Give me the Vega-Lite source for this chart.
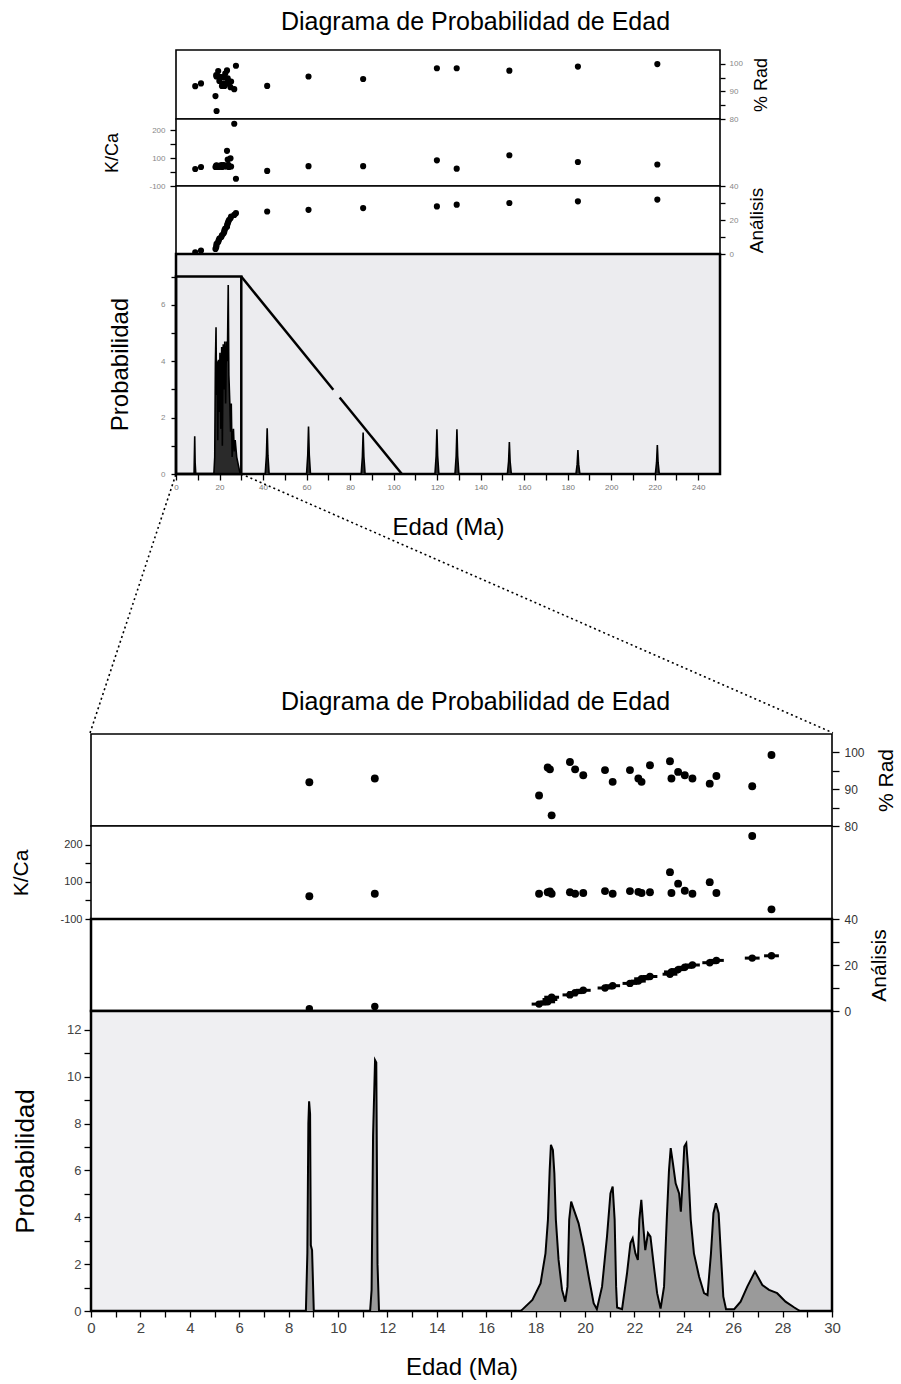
{
  "$schema": "https://vega.github.io/schema/vega-lite/v6.json",
  "width": 901,
  "height": 1384,
  "autosize": {"type": "none"},
  "padding": 0,
  "background": "white",
  "config": {
    "font": "Liberation Sans",
    "view": {"stroke": null},
    "axis": {"domain": false, "grid": false, "tickColor": "black", "tickWidth": 1.3, "labelColor": "#555", "titleColor": "black", "titleFontWeight": "normal", "labelFont": "Liberation Sans", "titleFont": "Liberation Sans", "minExtent": 0, "labelOverlap": false, "labelFlush": false}
  },
  "datasets": {
    "ana": [
      {"age": 8.84, "rad": 91.9, "kca": 61, "idx": 1, "err": 0.06},
      {"age": 11.49, "rad": 92.9, "kca": 68, "idx": 2, "err": 0.06},
      {"age": 18.14, "rad": 88.3, "kca": 68, "idx": 3, "err": 0.3},
      {"age": 18.49, "rad": 95.9, "kca": 72, "idx": 4, "err": 0.3},
      {"age": 18.58, "rad": 95.4, "kca": 74, "idx": 5, "err": 0.3},
      {"age": 18.65, "rad": 82.9, "kca": 68, "idx": 6, "err": 0.3},
      {"age": 19.39, "rad": 97.4, "kca": 72, "idx": 7, "err": 0.3},
      {"age": 19.6, "rad": 95.4, "kca": 68, "idx": 8, "err": 0.3},
      {"age": 19.93, "rad": 93.8, "kca": 70, "idx": 9, "err": 0.3},
      {"age": 20.81, "rad": 95.2, "kca": 75, "idx": 10, "err": 0.3},
      {"age": 21.12, "rad": 92.0, "kca": 68, "idx": 11, "err": 0.3},
      {"age": 21.82, "rad": 95.2, "kca": 75, "idx": 12, "err": 0.3},
      {"age": 22.16, "rad": 92.9, "kca": 73, "idx": 13, "err": 0.3},
      {"age": 22.29, "rad": 92.0, "kca": 70, "idx": 14, "err": 0.3},
      {"age": 22.63, "rad": 96.5, "kca": 72, "idx": 15, "err": 0.3},
      {"age": 23.44, "rad": 97.6, "kca": 126, "idx": 16, "err": 0.3},
      {"age": 23.5, "rad": 92.9, "kca": 70, "idx": 17, "err": 0.3},
      {"age": 23.77, "rad": 94.7, "kca": 95, "idx": 18, "err": 0.3},
      {"age": 24.04, "rad": 93.8, "kca": 76, "idx": 19, "err": 0.3},
      {"age": 24.35, "rad": 92.9, "kca": 68, "idx": 20, "err": 0.3},
      {"age": 25.05, "rad": 91.5, "kca": 99, "idx": 21, "err": 0.3},
      {"age": 25.32, "rad": 93.6, "kca": 70, "idx": 22, "err": 0.3},
      {"age": 26.77, "rad": 90.8, "kca": 223, "idx": 23, "err": 0.3},
      {"age": 27.55, "rad": 99.3, "kca": 26, "idx": 24, "err": 0.3},
      {"age": 41.9, "rad": 92.0, "kca": 54, "idx": 25, "err": 0.3},
      {"age": 60.9, "rad": 95.4, "kca": 71, "idx": 26, "err": 0.3},
      {"age": 86.0, "rad": 94.5, "kca": 71, "idx": 27, "err": 0.3},
      {"age": 119.9, "rad": 98.4, "kca": 92, "idx": 28, "err": 0.3},
      {"age": 129.0, "rad": 98.4, "kca": 62, "idx": 29, "err": 0.3},
      {"age": 153.2, "rad": 97.5, "kca": 110, "idx": 30, "err": 0.3},
      {"age": 184.7, "rad": 99.0, "kca": 86, "idx": 31, "err": 0.3},
      {"age": 221.2, "rad": 99.9, "kca": 77, "idx": 32, "err": 0.3}
    ],
    "pt": [
      {"a": 0, "p": 0}, {"a": 8.3, "p": 0}, {"a": 8.6, "p": 1.34}, {"a": 8.8, "p": 0.4}, {"a": 9.1, "p": 0},
      {"a": 17.4, "p": 0}, {"a": 17.8, "p": 0.6}, {"a": 18.1, "p": 3.9}, {"a": 18.4, "p": 5.2}, {"a": 18.6, "p": 2.8},
      {"a": 18.9, "p": 4.0}, {"a": 19.2, "p": 1.2}, {"a": 19.5, "p": 4.05}, {"a": 19.8, "p": 2.2}, {"a": 20.2, "p": 4.3},
      {"a": 20.6, "p": 1.6}, {"a": 21.0, "p": 4.5}, {"a": 21.3, "p": 1.0}, {"a": 21.7, "p": 4.6}, {"a": 22.0, "p": 3.0},
      {"a": 22.4, "p": 4.7}, {"a": 22.8, "p": 2.5}, {"a": 23.2, "p": 4.7}, {"a": 23.6, "p": 4.0}, {"a": 24.0, "p": 6.7},
      {"a": 24.3, "p": 3.5}, {"a": 24.7, "p": 2.6}, {"a": 25.1, "p": 1.5}, {"a": 25.4, "p": 2.5}, {"a": 25.8, "p": 0.6},
      {"a": 26.4, "p": 1.6}, {"a": 26.8, "p": 0.8}, {"a": 27.2, "p": 1.2}, {"a": 27.9, "p": 0.6}, {"a": 28.7, "p": 0.3},
      {"a": 29.5, "p": 0},
      {"a": 41.0, "p": 0}, {"a": 41.55, "p": 0.65}, {"a": 41.9, "p": 1.62}, {"a": 42.25, "p": 0.65}, {"a": 42.8, "p": 0},
      {"a": 60.0, "p": 0}, {"a": 60.55, "p": 0.67}, {"a": 60.9, "p": 1.68}, {"a": 61.25, "p": 0.67}, {"a": 61.8, "p": 0},
      {"a": 85.1, "p": 0}, {"a": 85.65, "p": 0.6}, {"a": 86.0, "p": 1.47}, {"a": 86.35, "p": 0.6}, {"a": 86.9, "p": 0},
      {"a": 119.0, "p": 0}, {"a": 119.55, "p": 0.64}, {"a": 119.9, "p": 1.59}, {"a": 120.25, "p": 0.64}, {"a": 120.8, "p": 0},
      {"a": 128.2, "p": 0}, {"a": 128.75, "p": 0.64}, {"a": 129.1, "p": 1.59}, {"a": 129.45, "p": 0.64}, {"a": 130.0, "p": 0},
      {"a": 152.3, "p": 0}, {"a": 152.85, "p": 0.45}, {"a": 153.2, "p": 1.13}, {"a": 153.55, "p": 0.45}, {"a": 154.1, "p": 0},
      {"a": 183.8, "p": 0}, {"a": 184.35, "p": 0.34}, {"a": 184.7, "p": 0.85}, {"a": 185.05, "p": 0.34}, {"a": 185.6, "p": 0},
      {"a": 220.3, "p": 0}, {"a": 220.85, "p": 0.41}, {"a": 221.2, "p": 1.03}, {"a": 221.55, "p": 0.41}, {"a": 222.1, "p": 0},
      {"a": 250, "p": 0}
    ],
    "pb": [
      {"a": 0, "p": 0}, {"a": 8.7, "p": 0}, {"a": 8.76, "p": 2.5}, {"a": 8.8, "p": 8.0}, {"a": 8.83, "p": 8.95},
      {"a": 8.87, "p": 8.4}, {"a": 8.9, "p": 2.8}, {"a": 8.95, "p": 2.6}, {"a": 9.02, "p": 0},
      {"a": 11.3, "p": 0}, {"a": 11.36, "p": 0.9}, {"a": 11.42, "p": 7.5}, {"a": 11.5, "p": 10.7}, {"a": 11.55, "p": 10.6},
      {"a": 11.6, "p": 2.0}, {"a": 11.66, "p": 0},
      {"a": 17.4, "p": 0}, {"a": 17.47, "p": 0.07}, {"a": 17.87, "p": 0.47}, {"a": 18.2, "p": 1.18}, {"a": 18.4, "p": 2.46},
      {"a": 18.5, "p": 3.9}, {"a": 18.57, "p": 6.0}, {"a": 18.62, "p": 7.09}, {"a": 18.7, "p": 6.87}, {"a": 18.76, "p": 5.88},
      {"a": 18.82, "p": 3.9}, {"a": 18.93, "p": 2.18}, {"a": 19.07, "p": 0.9}, {"a": 19.2, "p": 0.4}, {"a": 19.29, "p": 1.04},
      {"a": 19.36, "p": 3.9}, {"a": 19.44, "p": 4.67}, {"a": 19.53, "p": 4.38}, {"a": 19.74, "p": 3.74}, {"a": 19.94, "p": 2.74},
      {"a": 20.15, "p": 1.46}, {"a": 20.35, "p": 0.33}, {"a": 20.48, "p": 0.08}, {"a": 20.69, "p": 1.04}, {"a": 20.89, "p": 3.17},
      {"a": 21.03, "p": 5.02}, {"a": 21.12, "p": 5.31}, {"a": 21.2, "p": 3.9}, {"a": 21.26, "p": 1.04}, {"a": 21.3, "p": 0.15},
      {"a": 21.5, "p": 0.08}, {"a": 21.7, "p": 1.6}, {"a": 21.84, "p": 2.9}, {"a": 21.93, "p": 3.1}, {"a": 22.04, "p": 2.46},
      {"a": 22.14, "p": 2.18}, {"a": 22.2, "p": 3.9}, {"a": 22.28, "p": 4.74}, {"a": 22.35, "p": 3.74}, {"a": 22.44, "p": 2.6},
      {"a": 22.55, "p": 3.32}, {"a": 22.65, "p": 3.17}, {"a": 22.79, "p": 1.89}, {"a": 22.92, "p": 0.76}, {"a": 23.06, "p": 0.1},
      {"a": 23.2, "p": 1.04}, {"a": 23.31, "p": 3.9}, {"a": 23.4, "p": 6.0}, {"a": 23.47, "p": 6.95}, {"a": 23.56, "p": 6.3},
      {"a": 23.67, "p": 5.45}, {"a": 23.81, "p": 5.02}, {"a": 23.88, "p": 4.24}, {"a": 23.94, "p": 5.31}, {"a": 24.02, "p": 7.02},
      {"a": 24.1, "p": 7.16}, {"a": 24.18, "p": 6.02}, {"a": 24.28, "p": 3.9}, {"a": 24.41, "p": 2.46}, {"a": 24.62, "p": 1.46},
      {"a": 24.82, "p": 0.76}, {"a": 24.96, "p": 0.68}, {"a": 25.1, "p": 2.46}, {"a": 25.2, "p": 4.17}, {"a": 25.3, "p": 4.6},
      {"a": 25.41, "p": 4.17}, {"a": 25.5, "p": 2.46}, {"a": 25.6, "p": 0.61}, {"a": 25.71, "p": 0.08}, {"a": 26.04, "p": 0.08},
      {"a": 26.3, "p": 0.4}, {"a": 26.57, "p": 1.04}, {"a": 26.88, "p": 1.68}, {"a": 27.18, "p": 1.11}, {"a": 27.45, "p": 0.9},
      {"a": 27.78, "p": 0.76}, {"a": 28.12, "p": 0.4}, {"a": 28.46, "p": 0.16}, {"a": 28.7, "p": 0}, {"a": 30, "p": 0}
    ]
  },
  "resolve": {"scale": {"x": "independent", "y": "independent"}, "axis": {"x": "independent", "y": "independent"}},
  "layer": [
    {
      "data": {"values": [{"x0": 0, "x1": 250, "y0": 80, "y1": 105}]},
      "mark": {"type": "rect", "fill": "white", "stroke": "black", "strokeWidth": 1.6},
      "encoding": {
        "x": {"field": "x0", "type": "quantitative", "scale": {"domain": [0, 250], "range": [176, 720], "nice": false, "zero": false},
              "axis": {"orient": "top", "offset": -50, "labels": false, "ticks": false, "title": "Diagrama de Probabilidad de Edad", "titleFontSize": 25, "titlePadding": 16, "titleX": 475}},
        "x2": {"field": "x1"},
        "y": {"field": "y0", "type": "quantitative", "scale": {"domain": [80, 105], "range": [119, 50], "nice": false, "zero": false},
              "axis": {"orient": "right", "offset": -181, "values": [80, 85, 90, 95, 100], "labelExpr": "datum.value % 10 ? '' : datum.label", "tickSize": 5, "labelPadding": 4, "labelFontSize": 8, "labelColor": "#888", "title": "% Rad", "titleFontSize": 18, "titleAngle": 270, "titleBaseline": "top", "titlePadding": 10}},
        "y2": {"field": "y1"}
      }
    },
    {
      "data": {"name": "ana"},
      "mark": {"type": "circle", "color": "black", "size": 38, "opacity": 1},
      "encoding": {
        "x": {"field": "age", "type": "quantitative", "scale": {"domain": [0, 250], "range": [176, 720], "nice": false, "zero": false}, "axis": null},
        "y": {"field": "rad", "type": "quantitative", "scale": {"domain": [80, 105], "range": [119, 50], "nice": false, "zero": false}, "axis": null}
      }
    },
    {
      "data": {"values": [{"x0": 0, "x1": 250, "y0": 0, "y1": 240}]},
      "mark": {"type": "rect", "fill": "white", "stroke": "black", "strokeWidth": 1.6},
      "encoding": {
        "x": {"field": "x0", "type": "quantitative", "scale": {"domain": [0, 250], "range": [176, 720], "nice": false, "zero": false}, "axis": null},
        "x2": {"field": "x1"},
        "y": {"field": "y0", "type": "quantitative", "scale": {"domain": [0, 240], "range": [186, 119], "nice": false, "zero": false},
              "axis": {"orient": "left", "offset": -176, "values": [0, 50, 100, 150, 200], "labelExpr": "datum.value == 0 ? '-100' : (datum.value % 100 ? '' : datum.label)", "tickSize": 6, "labelPadding": 5, "labelFontSize": 8, "labelColor": "#888", "title": "K/Ca", "titleFontSize": 18, "titlePadding": 27}},
        "y2": {"field": "y1"}
      }
    },
    {
      "data": {"name": "ana"},
      "mark": {"type": "circle", "color": "black", "size": 38, "opacity": 1},
      "encoding": {
        "x": {"field": "age", "type": "quantitative", "scale": {"domain": [0, 250], "range": [176, 720], "nice": false, "zero": false}, "axis": null},
        "y": {"field": "kca", "type": "quantitative", "scale": {"domain": [0, 240], "range": [186, 119], "nice": false, "zero": false}, "axis": null}
      }
    },
    {
      "data": {"values": [{"x0": 0, "x1": 250, "y0": 0, "y1": 40}]},
      "mark": {"type": "rect", "fill": "white", "stroke": "black", "strokeWidth": 1.6},
      "encoding": {
        "x": {"field": "x0", "type": "quantitative", "scale": {"domain": [0, 250], "range": [176, 720], "nice": false, "zero": false}, "axis": null},
        "x2": {"field": "x1"},
        "y": {"field": "y0", "type": "quantitative", "scale": {"domain": [0, 40], "range": [254, 186], "nice": false, "zero": false},
              "axis": {"orient": "right", "offset": -181, "values": [0, 10, 20, 30, 40], "labelExpr": "datum.value % 20 ? '' : datum.label", "tickSize": 5, "labelPadding": 4, "labelFontSize": 8, "labelColor": "#888", "title": "Análisis", "titleFontSize": 19, "titleAngle": 270, "titleBaseline": "top", "titlePadding": 10}},
        "y2": {"field": "y1"}
      }
    },
    {
      "data": {"name": "ana"},
      "mark": {"type": "circle", "color": "black", "size": 38, "opacity": 1},
      "encoding": {
        "x": {"field": "age", "type": "quantitative", "scale": {"domain": [0, 250], "range": [176, 720], "nice": false, "zero": false}, "axis": null},
        "y": {"field": "idx", "type": "quantitative", "scale": {"domain": [0, 40], "range": [254, 186], "nice": false, "zero": false}, "axis": null}
      }
    },
    {
      "data": {"values": [{"x0": 0, "x1": 250, "y0": 0, "y1": 7.8}]},
      "mark": {"type": "rect", "fill": "#ececef", "stroke": "black", "strokeWidth": 2.5},
      "encoding": {
        "x": {"field": "x0", "type": "quantitative", "scale": {"domain": [0, 250], "range": [176, 720], "nice": false, "zero": false},
              "axis": {"orient": "bottom", "offset": -910, "values": [0, 10, 20, 30, 40, 50, 60, 70, 80, 90, 100, 110, 120, 130, 140, 150, 160, 170, 180, 190, 200, 210, 220, 230, 240], "labelExpr": "datum.value % 20 ? '' : datum.label", "tickSize": 6, "labelPadding": 3, "labelFontSize": 8, "labelColor": "#777", "title": "Edad (Ma)", "titleFontSize": 24, "titlePadding": 24}},
        "x2": {"field": "x1"},
        "y": {"field": "y0", "type": "quantitative", "scale": {"domain": [0, 7.8], "range": [474, 254], "nice": false, "zero": false},
              "axis": {"orient": "left", "offset": -176, "values": [0, 1, 2, 3, 4, 5, 6, 7], "labelExpr": "datum.value % 2 ? '' : datum.label", "tickSize": 5, "labelPadding": 6, "labelFontSize": 8, "labelColor": "#888", "title": "Probabilidad", "titleFontSize": 24, "titlePadding": 28}},
        "y2": {"field": "y1"}
      }
    },
    {
      "data": {"name": "pt"},
      "mark": {"type": "area", "color": "#2a2a2a", "opacity": 1},
      "encoding": {
        "x": {"field": "a", "type": "quantitative", "scale": {"domain": [0, 250], "range": [176, 720], "nice": false, "zero": false}, "axis": null},
        "y": {"field": "p", "type": "quantitative", "scale": {"domain": [0, 7.8], "range": [474, 254], "nice": false, "zero": false}, "axis": null}
      }
    },
    {
      "data": {"name": "pt"},
      "mark": {"type": "line", "color": "black", "strokeWidth": 1.6},
      "encoding": {
        "x": {"field": "a", "type": "quantitative", "scale": {"domain": [0, 250], "range": [176, 720], "nice": false, "zero": false}, "axis": null},
        "y": {"field": "p", "type": "quantitative", "scale": {"domain": [0, 7.8], "range": [474, 254], "nice": false, "zero": false}, "axis": null}
      }
    },
    {
      "data": {"values": [{"x0": 0, "x1": 30, "y0": 0, "y1": 7.0}]},
      "mark": {"type": "rect", "filled": false, "stroke": "black", "strokeWidth": 2.5},
      "encoding": {
        "x": {"field": "x0", "type": "quantitative", "scale": {"domain": [0, 250], "range": [176, 720], "nice": false, "zero": false}, "axis": null},
        "x2": {"field": "x1"},
        "y": {"field": "y0", "type": "quantitative", "scale": {"domain": [0, 7.8], "range": [474, 254], "nice": false, "zero": false}, "axis": null},
        "y2": {"field": "y1"}
      }
    },
    {
      "data": {"values": [{"a": 30, "p": 7.0, "s": 1}, {"a": 72.3, "p": 2.99, "s": 1}, {"a": 75.2, "p": 2.71, "s": 2}, {"a": 103.8, "p": 0, "s": 2}]},
      "mark": {"type": "line", "color": "black", "strokeWidth": 2.5},
      "encoding": {
        "x": {"field": "a", "type": "quantitative", "scale": {"domain": [0, 250], "range": [176, 720], "nice": false, "zero": false}, "axis": null},
        "y": {"field": "p", "type": "quantitative", "scale": {"domain": [0, 7.8], "range": [474, 254], "nice": false, "zero": false}, "axis": null},
        "detail": {"field": "s", "type": "nominal"}
      }
    },
    {
      "data": {"values": [{"a": 0, "p": 0, "s": "l"}, {"a": -39.5, "p": -9.18, "s": "l"}, {"a": 30, "p": 0, "s": "r"}, {"a": 301.9, "p": -9.18, "s": "r"}]},
      "mark": {"type": "line", "color": "black", "strokeWidth": 1.6, "strokeDash": [2, 3]},
      "encoding": {
        "x": {"field": "a", "type": "quantitative", "scale": {"domain": [0, 250], "range": [176, 720], "nice": false, "zero": false}, "axis": null},
        "y": {"field": "p", "type": "quantitative", "scale": {"domain": [0, 7.8], "range": [474, 254], "nice": false, "zero": false}, "axis": null},
        "detail": {"field": "s", "type": "nominal"}
      }
    },
    {
      "data": {"values": [{"x0": 0, "x1": 30, "y0": 80, "y1": 105}]},
      "mark": {"type": "rect", "fill": "white", "stroke": "black", "strokeWidth": 1.6},
      "encoding": {
        "x": {"field": "x0", "type": "quantitative", "scale": {"domain": [0, 30], "range": [91, 832], "nice": false, "zero": false},
              "axis": {"orient": "top", "offset": -734, "labels": false, "ticks": false, "title": "Diagrama de Probabilidad de Edad", "titleFontSize": 25, "titlePadding": 20, "titleX": 475}},
        "x2": {"field": "x1"},
        "y": {"field": "y0", "type": "quantitative", "scale": {"domain": [80, 105], "range": [826, 734], "nice": false, "zero": false},
              "axis": {"orient": "right", "offset": -69, "values": [80, 85, 90, 95, 100], "labelExpr": "datum.value % 10 ? '' : datum.label", "tickSize": 7, "labelPadding": 5, "labelFontSize": 12, "labelColor": "#333", "title": "% Rad", "titleFontSize": 21, "titleAngle": 270, "titleBaseline": "top", "titlePadding": 11}},
        "y2": {"field": "y1"}
      }
    },
    {
      "data": {"name": "ana"},
      "transform": [{"filter": "datum.age <= 30"}],
      "mark": {"type": "circle", "color": "black", "size": 62, "opacity": 1},
      "encoding": {
        "x": {"field": "age", "type": "quantitative", "scale": {"domain": [0, 30], "range": [91, 832], "nice": false, "zero": false}, "axis": null},
        "y": {"field": "rad", "type": "quantitative", "scale": {"domain": [80, 105], "range": [826, 734], "nice": false, "zero": false}, "axis": null}
      }
    },
    {
      "data": {"values": [{"x0": 0, "x1": 30, "y0": 0, "y1": 250}]},
      "mark": {"type": "rect", "fill": "white", "stroke": "black", "strokeWidth": 1.6},
      "encoding": {
        "x": {"field": "x0", "type": "quantitative", "scale": {"domain": [0, 30], "range": [91, 832], "nice": false, "zero": false}, "axis": null},
        "x2": {"field": "x1"},
        "y": {"field": "y0", "type": "quantitative", "scale": {"domain": [0, 250], "range": [919, 826], "nice": false, "zero": false},
              "axis": {"orient": "left", "offset": -91, "values": [0, 50, 100, 150, 200], "labelExpr": "datum.value == 0 ? '-100' : (datum.value % 100 ? '' : datum.label)", "tickSize": 6, "labelPadding": 3, "labelFontSize": 11, "labelColor": "#333", "title": "K/Ca", "titleFontSize": 21, "titlePadding": 28}},
        "y2": {"field": "y1"}
      }
    },
    {
      "data": {"name": "ana"},
      "transform": [{"filter": "datum.age <= 30"}],
      "mark": {"type": "circle", "color": "black", "size": 62, "opacity": 1},
      "encoding": {
        "x": {"field": "age", "type": "quantitative", "scale": {"domain": [0, 30], "range": [91, 832], "nice": false, "zero": false}, "axis": null},
        "y": {"field": "kca", "type": "quantitative", "scale": {"domain": [0, 250], "range": [919, 826], "nice": false, "zero": false}, "axis": null}
      }
    },
    {
      "data": {"values": [{"x0": 0, "x1": 30, "y0": 0, "y1": 40}]},
      "mark": {"type": "rect", "fill": "white", "stroke": "black", "strokeWidth": 2.5},
      "encoding": {
        "x": {"field": "x0", "type": "quantitative", "scale": {"domain": [0, 30], "range": [91, 832], "nice": false, "zero": false}, "axis": null},
        "x2": {"field": "x1"},
        "y": {"field": "y0", "type": "quantitative", "scale": {"domain": [0, 40], "range": [1011, 919], "nice": false, "zero": false},
              "axis": {"orient": "right", "offset": -69, "values": [0, 10, 20, 30, 40], "labelExpr": "datum.value % 20 ? '' : datum.label", "tickSize": 7, "labelPadding": 5, "labelFontSize": 12, "labelColor": "#333", "title": "Análisis", "titleFontSize": 21, "titleAngle": 270, "titleBaseline": "top", "titlePadding": 11}},
        "y2": {"field": "y1"}
      }
    },
    {
      "data": {"name": "ana"},
      "transform": [{"filter": "datum.age <= 30"}],
      "mark": {"type": "errorbar", "color": "black", "thickness": 3},
      "encoding": {
        "x": {"field": "age", "type": "quantitative", "scale": {"domain": [0, 30], "range": [91, 832], "nice": false, "zero": false}, "axis": null},
        "xError": {"field": "err"},
        "y": {"field": "idx", "type": "quantitative", "scale": {"domain": [0, 40], "range": [1011, 919], "nice": false, "zero": false}, "axis": null}
      }
    },
    {
      "data": {"name": "ana"},
      "transform": [{"filter": "datum.age <= 30"}],
      "mark": {"type": "circle", "color": "black", "size": 55, "opacity": 1},
      "encoding": {
        "x": {"field": "age", "type": "quantitative", "scale": {"domain": [0, 30], "range": [91, 832], "nice": false, "zero": false}, "axis": null},
        "y": {"field": "idx", "type": "quantitative", "scale": {"domain": [0, 40], "range": [1011, 919], "nice": false, "zero": false}, "axis": null}
      }
    },
    {
      "data": {"values": [{"x0": 0, "x1": 30, "y0": 0, "y1": 12.8}]},
      "mark": {"type": "rect", "fill": "#efeff2", "stroke": "black", "strokeWidth": 2.5},
      "encoding": {
        "x": {"field": "x0", "type": "quantitative", "scale": {"domain": [0, 30], "range": [91, 832], "nice": false, "zero": false},
              "axis": {"orient": "bottom", "offset": -73, "values": [0, 1, 2, 3, 4, 5, 6, 7, 8, 9, 10, 11, 12, 13, 14, 15, 16, 17, 18, 19, 20, 21, 22, 23, 24, 25, 26, 27, 28, 29, 30], "labelExpr": "datum.value % 2 ? '' : datum.label", "tickSize": 6, "labelPadding": 3, "labelFontSize": 15, "labelColor": "#444", "title": "Edad (Ma)", "titleFontSize": 24, "titlePadding": 20}},
        "x2": {"field": "x1"},
        "y": {"field": "y0", "type": "quantitative", "scale": {"domain": [0, 12.8], "range": [1311, 1011], "nice": false, "zero": false},
              "axis": {"orient": "left", "offset": -91, "values": [0, 1, 2, 3, 4, 5, 6, 7, 8, 9, 10, 11, 12], "labelExpr": "datum.value % 2 ? '' : datum.label", "tickSize": 7, "labelPadding": 3, "labelFontSize": 13, "labelColor": "#444", "title": "Probabilidad", "titleFontSize": 26, "titlePadding": 28}},
        "y2": {"field": "y1"}
      }
    },
    {
      "data": {"name": "pb"},
      "mark": {"type": "area", "color": "#9a9a9a", "opacity": 1},
      "encoding": {
        "x": {"field": "a", "type": "quantitative", "scale": {"domain": [0, 30], "range": [91, 832], "nice": false, "zero": false}, "axis": null},
        "y": {"field": "p", "type": "quantitative", "scale": {"domain": [0, 12.8], "range": [1311, 1011], "nice": false, "zero": false}, "axis": null}
      }
    },
    {
      "data": {"name": "pb"},
      "mark": {"type": "line", "color": "black", "strokeWidth": 2},
      "encoding": {
        "x": {"field": "a", "type": "quantitative", "scale": {"domain": [0, 30], "range": [91, 832], "nice": false, "zero": false}, "axis": null},
        "y": {"field": "p", "type": "quantitative", "scale": {"domain": [0, 12.8], "range": [1311, 1011], "nice": false, "zero": false}, "axis": null}
      }
    }
  ]
}
